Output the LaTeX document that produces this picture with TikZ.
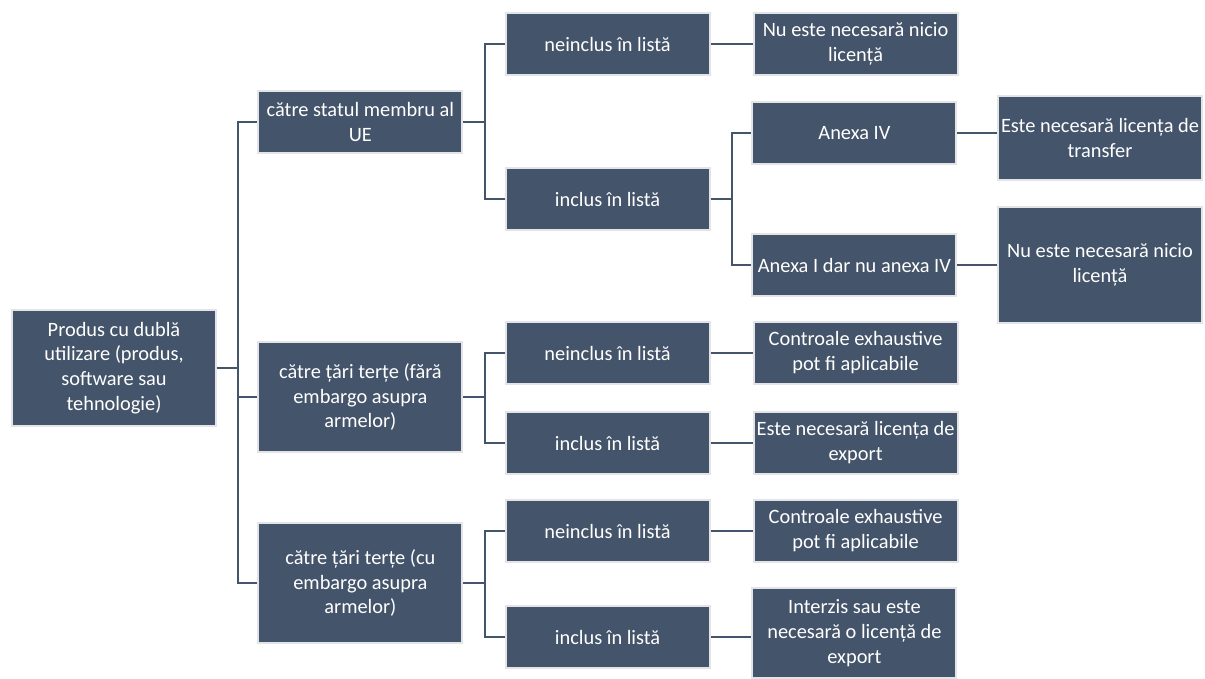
\documentclass[tikz,border=0pt]{standalone}
\usepackage{fontspec}
\setmainfont{Carlito}
\usepackage{tikz}
\usetikzlibrary{positioning}

\definecolor{slate}{HTML}{44546A}
\definecolor{rim}{HTML}{E2E4E8}

\tikzset{
  box/.style = {fill=slate, draw=rim, line width=1.4pt, text=white,
                minimum width=5.1cm, minimum height=1.55cm,
                align=center, inner sep=2pt,
                font=\fontsize{14.5}{17.7}\selectfont},
  link/.style = {draw=slate, line width=1.5pt}
}

\begin{document}
\begin{tikzpicture}[node distance = 1.05cm]
  \useasboundingbox (0,0) rectangle (30.125,-16.975);

  \node[box, minimum height=2.9cm] (root) at (2.85,-9.2)
        {Produs cu dublă\\utilizare (produs,\\software sau\\tehnologie)};

  \node[box]                       (ue)   at (9.01,-3.05)  {către statul membru al\\UE};
  \node[box, minimum height=2.75cm] (fara) at (9.01,-9.925) {către țări terțe (fără\\embargo asupra\\armelor)};
  \node[box, minimum height=3cm]   (cu)   at (9.01,-14.575) {către țări terțe (cu\\embargo asupra\\armelor)};

  \node[box] (ueno)   at (15.19,-1.1)    {neinclus în listă};
  \node[box] (ueyes)  at (15.19,-4.975)  {inclus în listă};
  \node[box] (farano) at (15.19,-8.825)  {neinclus în listă};
  \node[box] (farayes) at (15.19,-11.075) {inclus în listă};
  \node[box] (cuno)   at (15.19,-13.275) {neinclus în listă};
  \node[box] (cuyes)  at (15.19,-15.925) {inclus în listă};

  \node[box] (anexaiv) at (21.36,-3.325) {Anexa IV};
  \node[box] (anexai)  at (21.36,-6.625) {Anexa I dar nu anexa IV};

  \node[box] (resueno)   [right = of ueno]    {Nu este necesară nicio\\licență};
  \node[box] (resfarano) [right = of farano]  {Controale exhaustive\\pot fi aplicabile};
  \node[box] (resfarayes) [right = of farayes] {Este necesară licența de\\export};
  \node[box] (rescuno)   [right = of cuno]    {Controale exhaustive\\pot fi aplicabile};
  \node[box, minimum height=2.25cm] (rescuyes) at (21.36,-15.825)
        {Interzis sau este\\necesară o licență de\\export};

  \node[box, minimum height=2.1cm] (transfer) at (27.5,-3.45) {Este necesară licența de\\transfer};
  \node[box, minimum height=2.9cm] (nolic)    at (27.5,-6.625) {Nu este necesară nicio\\licență};

  % root to destinations
  \draw[link] (root.east) -- ++(0.525,0) |- (ue.west);
  \draw[link] (root.east) -- ++(0.525,0) |- (fara.west);
  \draw[link] (root.east) -- ++(0.525,0) |- (cu.west);

  % destinations to lists
  \draw[link] (ue.east) -- ++(0.55,0) |- (ueno.west);
  \draw[link] (ue.east) -- ++(0.55,0) |- (ueyes.west);
  \draw[link] (fara.east) -- ++(0.55,0) |- (farano.west);
  \draw[link] (fara.east) -- ++(0.55,0) |- (farayes.west);
  \draw[link] (cu.east) -- ++(0.55,0) |- (cuno.west);
  \draw[link] (cu.east) -- ++(0.55,0) |- (cuyes.west);

  % annexes
  \draw[link] (ueyes.east) -- ++(0.525,0) |- (anexaiv.west);
  \draw[link] (ueyes.east) -- ++(0.525,0) |- (anexai.west);

  % results
  \draw[link] (ueno.east) -- (resueno.west);
  \draw[link] (farano.east) -- (resfarano.west);
  \draw[link] (farayes.east) -- (resfarayes.west);
  \draw[link] (cuno.east) -- (rescuno.west);
  \draw[link] (cuyes.east) -- (cuyes.east -| rescuyes.west);
  \draw[link] (anexaiv.east) -- (anexaiv.east -| transfer.west);
  \draw[link] (anexai.east) -- (nolic.west);
\end{tikzpicture}
\end{document}
